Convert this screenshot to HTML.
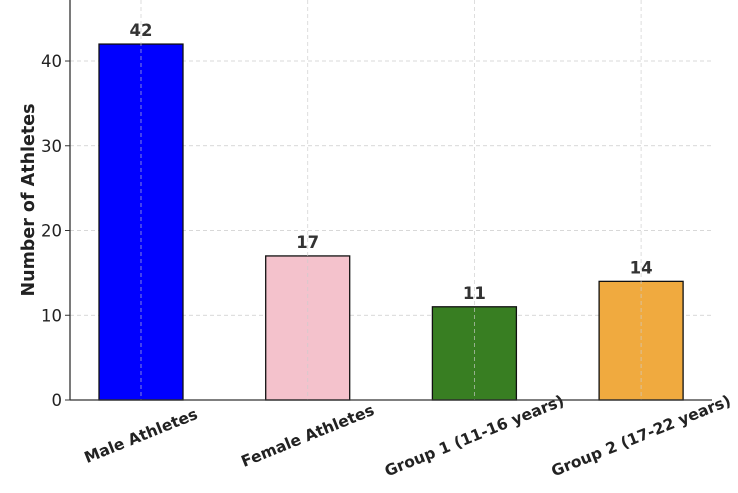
<!DOCTYPE html>
<html><head><meta charset="utf-8"><style>body{margin:0;background:#fff}svg{display:block}text{font-family:"DejaVu Sans","Liberation Sans",sans-serif}</style></head>
<body>
<svg id="c" width="738" height="493"></svg>
<script>
const categories=["Male Athletes","Female Athletes","Group 1 (11-16 years)","Group 2 (17-22 years)"];
const values=[42,17,11,14];
const colors=["#0000ff","#f4c2cc","#387e22","#f0aa3f"];
const yTicks=[0,10,20,30,40];
const NS="http://www.w3.org/2000/svg",svg=document.getElementById("c");
const x0=70,x1=712,yb=400,yt=0,yMax=47.2;
const y=v=>yb-v*(yb-yt)/yMax;
const xc=i=>141+i*166.7;
function el(t,a,txt){const e=document.createElementNS(NS,t);for(const k in a)e.setAttribute(k,a[k]);if(txt!=null)e.textContent=txt;svg.appendChild(e);return e;}
yTicks.forEach(t=>{if(t>0){const g=el("line",{x1:x0,x2:x1,y1:y(t),y2:y(t),stroke:"#ccc","stroke-dasharray":"4,3","stroke-width":0.8});

}
const k=el("line",{x1:x0-5,x2:x0,y1:y(t),y2:y(t),stroke:"#333"});


const l=el("text",{x:x0-8,y:y(t)+6,"text-anchor":"end","font-size":16.5,fill:"#222"},t);

});
categories.forEach((c,i)=>{const cx=xc(i);
const b=el("rect",{x:cx-42,y:y(values[i]),width:84,height:yb-y(values[i]),fill:colors[i],stroke:"#111","stroke-width":1.3});


const g=el("line",{x1:cx,x2:cx,y1:yt,y2:yb,stroke:"#ccc","stroke-dasharray":"4,3","stroke-width":0.8,opacity:0.8});


const v=el("text",{x:cx,y:y(values[i])-8,"text-anchor":"middle","font-size":16.5,"font-weight":"bold",fill:"#333"},values[i]);


const t=el("text",{x:cx,y:441,"text-anchor":"middle","font-size":15.5,"font-weight":"bold",fill:"#222",transform:`rotate(-22 ${cx} 436)`},c);

});
const ax=el("line",{x1:x0,x2:x0,y1:yt,y2:yb,stroke:"#333","stroke-width":1.3});


const bx=el("line",{x1:x0,x2:x1,y1:yb,y2:yb,stroke:"#333","stroke-width":1.3});


const yl=el("text",{x:34,y:200,"text-anchor":"middle","font-size":17.5,"font-weight":"bold",fill:"#222",transform:"rotate(-90 34 200)"},"Number of Athletes");


</script>
</body></html>
